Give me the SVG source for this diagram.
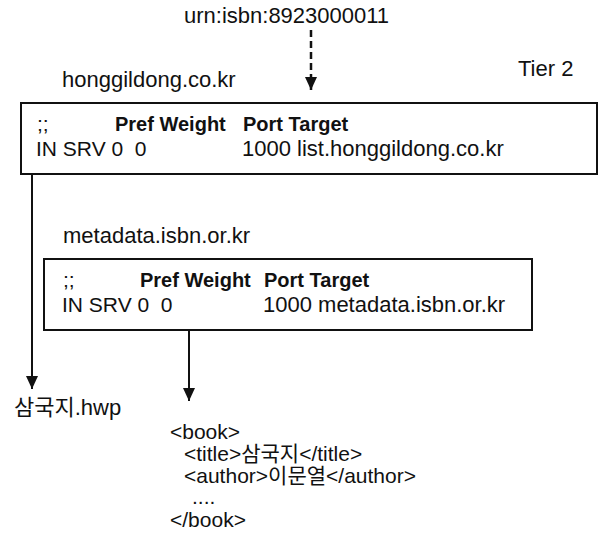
<svg xmlns="http://www.w3.org/2000/svg" width="602" height="541" viewBox="0 0 602 541">
<style>
text{font-family:"Liberation Sans","Noto Sans CJK KR",sans-serif;font-size:22px;fill:#111}
.b{font-weight:bold;font-size:20px}
.r{font-size:21px}
.x{font-size:21px}
.box{fill:#fff;stroke:#111;stroke-width:2}
.ln{stroke:#111;stroke-width:2;fill:none}
.dash{stroke:#111;stroke-width:2.5;stroke-dasharray:7 4;fill:none}
</style>
<defs>
<marker id="ah" viewBox="0 0 13 12" refX="13" refY="6" markerWidth="13" markerHeight="12" markerUnits="userSpaceOnUse" orient="auto">
<path d="M0,0 L13,6 L0,12 Z" fill="#111"/>
</marker>
</defs>
<rect width="602" height="541" fill="#fff"/>
<g id="urn"><text x="184" y="23">urn:isbn:8923000011</text></g>
<g id="tier"><text x="518" y="76">Tier 2</text></g>
<g id="box1">
<text x="62" y="87">honggildong.co.kr</text>
<rect class="box" x="21" y="103" width="576" height="71"/>
<text class="r" x="37" y="131">;;</text>
<text class="b" x="115" y="131">Pref Weight</text>
<text class="b" x="243" y="131">Port Target</text>
<text class="r" x="36" y="156" xml:space="preserve">IN SRV 0  0</text>
<text x="242" y="156">1000 list.honggildong.co.kr</text>
</g>
<g id="box2">
<text x="63" y="243">metadata.isbn.or.kr</text>
<rect class="box" x="44" y="259" width="488" height="71"/>
<text class="r" x="63" y="287">;;</text>
<text class="b" x="140" y="287">Pref Weight</text>
<text class="b" x="264" y="287">Port Target</text>
<text class="r" x="62" y="312" xml:space="preserve">IN SRV 0  0</text>
<text x="263" y="312">1000 metadata.isbn.or.kr</text>
</g>
<g id="file"><text x="14" y="415">삼국지.hwp</text></g>
<g id="xml">
<text class="x" x="170" y="439">&lt;book&gt;</text>
<text class="x" x="184" y="461">&lt;title&gt;삼국지&lt;/title&gt;</text>
<text class="x" x="184" y="483">&lt;author&gt;이문열&lt;/author&gt;</text>
<text class="x" x="192" y="504">....</text>
<text class="x" x="170" y="527">&lt;/book&gt;</text>
</g>
<g id="connectors">
<path class="dash" d="M311,30 V90" marker-end="url(#ah)"/>
<path class="ln" d="M32,174 V389" marker-end="url(#ah)"/>
<path class="ln" d="M189,330 V401" marker-end="url(#ah)"/>
</g>
</svg>
